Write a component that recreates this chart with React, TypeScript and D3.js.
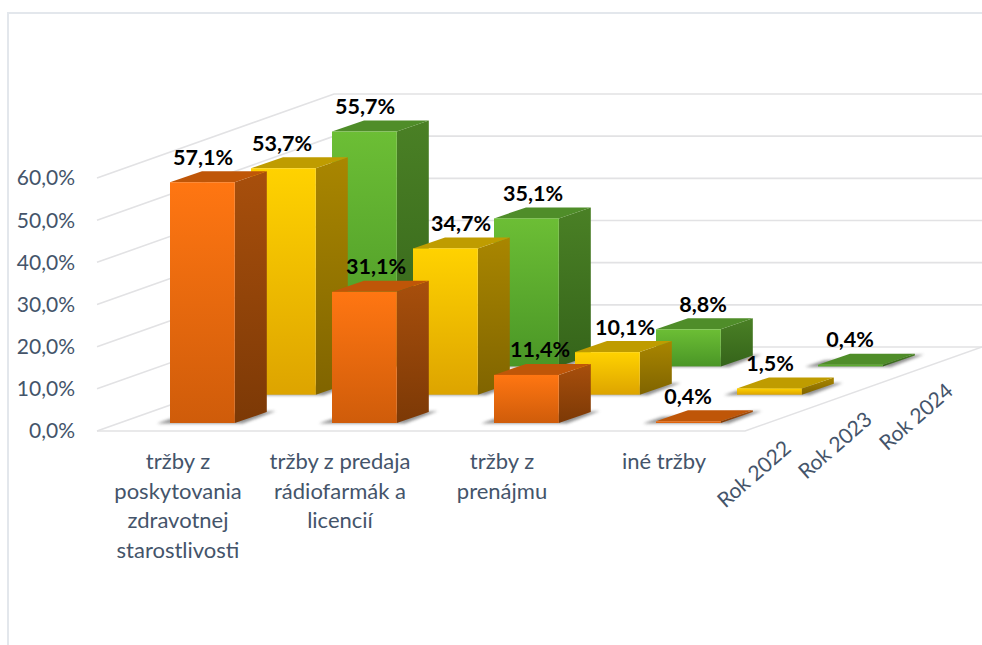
import React from "react";
import * as d3 from "d3";

const categories = [
  ["tržby z", "poskytovania", "zdravotnej", "starostlivosti"],
  ["tržby z predaja", "rádiofarmák a", "licencií"],
  ["tržby z", "prenájmu"],
  ["iné tržby"],
];
const seriesNames = ["Rok 2022", "Rok 2023", "Rok 2024"];
const rok2022 = [57.1, 31.1, 11.4, 0.4];
const rok2023 = [53.7, 34.7, 10.1, 1.5];
const rok2024 = [55.7, 35.1, 8.8, 0.4];
const seriesValues = [rok2022, rok2023, rok2024];
const ticks = [0, 10, 20, 30, 40, 50, 60];
const palette = [
  { a: "#FF7612", b: "#CF5C0A", sa: "#A84F0C", sb: "#7C3906", top: "#BF5608" },
  { a: "#FFD200", b: "#DDA400", sa: "#A98600", sb: "#806400", top: "#BF9C00" },
  { a: "#6CBE35", b: "#4A9626", sa: "#4A8025", sb: "#35641A", top: "#4F8D29" },
];
// label nudges, one row per series
const labelDx = [
  [33, 44, 46, 32],
  [31, 48, 50, 33],
  [33, 39, 47, 32],
];
// horizontal centre of each category label, relative to the front bar
const catLabelDx = [8, 8, 8, 8];

const fmt = (v: number) => v.toFixed(1).replace(".", ",") + "%";

const catIdx = d3.range(categories.length);
const xScale = d3.scalePoint<number>().domain(catIdx).range([170, 656]);
const depth = d3.scalePoint<number>().domain(d3.range(3)).range([0, 2]);
const yScale = d3.scaleLinear().domain([0, 60]).range([0, 253]);

const BASE_Y = 423;
const DEPTH_DX = 81;
const DEPTH_DY = 28.3;
const BAR_W = 64.8;
const SIDE_DX = 32;
const SIDE_DY = 11;

const FLOOR_X = 97;
const FLOOR_Y = 431;
const FLOOR_W = 648;
const WALL_DX = 237;
const WALL_DY = 84;

const poly = d3.line<[number, number]>().x((d) => d[0]).y((d) => d[1]);
const closed = (pts: [number, number][]) => poly(pts) + "Z";

const Bar = ({ s, c }: { s: number; c: number }) => {
  const v = seriesValues[s][c];
  const x = xScale(c)! + depth(s)! * DEPTH_DX;
  const bottom = BASE_Y - depth(s)! * DEPTH_DY;
  const top = bottom - yScale(v);
  const r = x + BAR_W;
  const p = palette[s];
  return (
    <g>
      <path
        d={closed([
          [x - 13, bottom + 0.5],
          [x + 6, bottom - 6],
          [r + SIDE_DX + 9, bottom - SIDE_DY - 1],
          [r + 8, bottom + 0.5],
        ])}
        fill="#808080"
        opacity={0.85}
        filter="url(#soft)"
      />
      <path
        d={closed([
          [r, top],
          [r + SIDE_DX, top - SIDE_DY],
          [r + SIDE_DX, bottom - SIDE_DY],
          [r, bottom],
        ])}
        fill={`url(#side${s})`}
      />
      <path
        d={closed([
          [x, top],
          [x + SIDE_DX, top - SIDE_DY],
          [r + SIDE_DX, top - SIDE_DY],
          [r, top],
        ])}
        fill={p.top}
      />
      <rect x={x} y={top} width={BAR_W} height={bottom - top} fill={`url(#front${s})`} />
    </g>
  );
};

export default function App() {
  const gridColor = "#e2e2e4";
  const axisFont = "Lato, sans-serif";
  return (
    <svg
      width={982}
      height={645}
      style={{ position: "absolute", left: 0, top: 0, background: "#fff" }}
    >
      <defs>
        <filter id="soft" x="-20%" y="-100%" width="140%" height="300%">
          <feGaussianBlur stdDeviation="1.6" />
        </filter>
        {palette.map((p, i) => (
          <React.Fragment key={i}>
            <linearGradient id={`front${i}`} x1="0" y1="0" x2="0" y2="1">
              <stop offset="0" stopColor={p.a} />
              <stop offset="1" stopColor={p.b} />
            </linearGradient>
            <linearGradient id={`side${i}`} x1="0" y1="0" x2="0" y2="1">
              <stop offset="0" stopColor={p.sa} />
              <stop offset="1" stopColor={p.sb} />
            </linearGradient>
          </React.Fragment>
        ))}
      </defs>

      {/* frame */}
      <path d="M8,645V13H982" fill="none" stroke="#e3e7ec" strokeWidth={2} />

      {/* walls */}
      {ticks.map((t) => {
        const y = FLOOR_Y - yScale(t);
        return (
          <path
            key={t}
            fill="none"
            stroke={gridColor}
            strokeWidth={1.6}
            d={poly([
              [FLOOR_X, y],
              [FLOOR_X + WALL_DX, y - WALL_DY],
              [982, y - WALL_DY],
            ])!}
          />
        );
      })}
      <path
        d={poly([
          [FLOOR_X, FLOOR_Y],
          [FLOOR_X + FLOOR_W, FLOOR_Y],
          [FLOOR_X + FLOOR_W + WALL_DX, FLOOR_Y - WALL_DY],
        ])!}
        fill="none"
        stroke={gridColor}
        strokeWidth={1.6}
      />

      {/* bars, back row first */}
      {[2, 1, 0].map((s) => (
        <g key={s}>
          {catIdx.map((c) => (
            <Bar key={c} s={s} c={c} />
          ))}
        </g>
      ))}

      {/* value labels */}
      {[2, 1, 0].map((s) =>
        catIdx.map((c) => {
          const v = seriesValues[s][c];
          const x = xScale(c)! + depth(s)! * DEPTH_DX + labelDx[s][c];
          const y = BASE_Y - depth(s)! * DEPTH_DY - yScale(v) - 25;
          return (
            <text
              key={`${s}-${c}`}
              x={x}
              y={y}
              dy="0.35em"
              textAnchor="middle"
              fontFamily={axisFont}
              fontWeight={700}
              fontSize={21.5}
              fill="#000"
            >
              {fmt(v)}
            </text>
          );
        })
      )}

      {/* value axis */}
      {ticks.map((t) => (
        <text
          key={t}
          x={75}
          y={FLOOR_Y - yScale(t)}
          dy="0.35em"
          textAnchor="end"
          fontFamily={axisFont}
          fontSize={21}
          fill="#44546A"
        >
          {fmt(t)}
        </text>
      ))}

      {/* category labels */}
      {categories.map((lines, c) => (
        <text
          key={c}
          textAnchor="middle"
          fontFamily={axisFont}
          fontSize={22}
          fill="#44546A"
        >
          {lines.map((l, i) => (
            <tspan key={i} x={xScale(c)! + catLabelDx[c]} y={469 + i * 29.5}>
              {l}
            </tspan>
          ))}
        </text>
      ))}

      {/* depth axis */}
      {seriesNames.map((n, s) => (
        <text
          key={n}
          transform={`translate(${754 + depth(s)! * 81},${474 - depth(s)! * 28.7}) rotate(-41)`}
          textAnchor="middle"
          dy="0.35em"
          fontFamily={axisFont}
          fontSize={21}
          fill="#44546A"
        >
          {n}
        </text>
      ))}
    </svg>
  );
}
